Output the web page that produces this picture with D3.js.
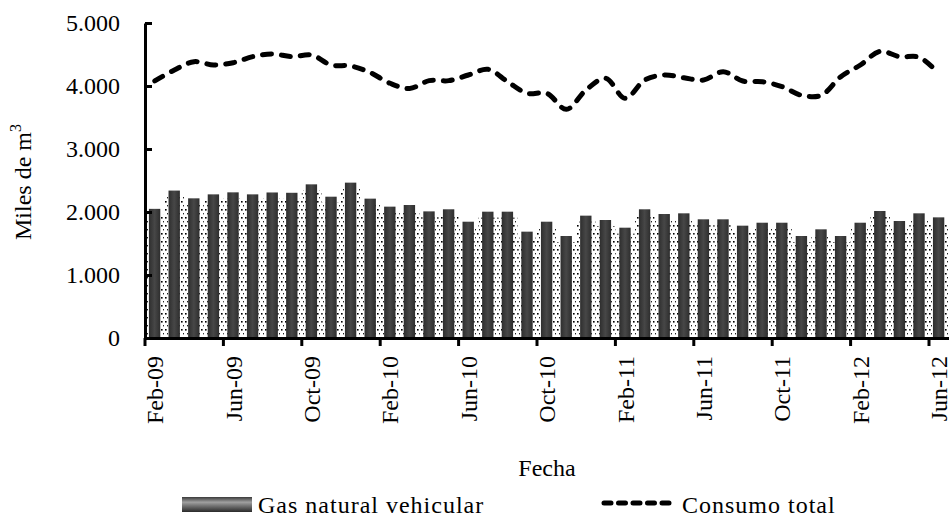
<!DOCTYPE html>
<html>
<head>
<meta charset="utf-8">
<script src="https://cdn.jsdelivr.net/npm/d3@7"></script>
<style>
  html, body { margin: 0; padding: 0; background: #fff; }
  svg { display: block; }
  text { font-family: "Liberation Serif", "Times New Roman", serif; fill: #000; }
</style>
</head>
<body>
<div id="chart"></div>
<script>
// ---- Data ----
const months = ["Feb-09","Mar-09","Apr-09","May-09","Jun-09","Jul-09","Aug-09","Sep-09","Oct-09","Nov-09","Dec-09","Jan-10",
                "Feb-10","Mar-10","Apr-10","May-10","Jun-10","Jul-10","Aug-10","Sep-10","Oct-10","Nov-10","Dec-10","Jan-11",
                "Feb-11","Mar-11","Apr-11","May-11","Jun-11","Jul-11","Aug-11","Sep-11","Oct-11","Nov-11","Dec-11","Jan-12",
                "Feb-12","Mar-12","Apr-12","May-12","Jun-12"];
const gasNaturalVehicular = [2050,2340,2217,2280,2312,2280,2310,2305,2439,2243,2466,2212,
                             2085,2111,2010,2043,1846,2005,2005,1688,1846,1619,1942,1873,
                             1751,2043,1968,1979,1884,1884,1783,1830,1830,1619,1725,1619,
                             1830,2016,1857,1979,1915];
const consumoTotal = [4080,4254,4386,4333,4370,4466,4508,4466,4492,4333,4317,4212,
                      4043,3960,4085,4085,4175,4265,4068,3884,3884,3630,3937,4122,
                      3804,4095,4175,4130,4095,4228,4079,4068,3990,3852,3852,4148,
                      4333,4550,4466,4455,4200];
const xTickLabels = ["Feb-09","Jun-09","Oct-09","Feb-10","Jun-10","Oct-10","Feb-11","Jun-11","Oct-11","Feb-12","Jun-12"];
const yTicks = [0,1000,2000,3000,4000,5000];
const seriesNames = ["Gas natural vehicular","Consumo total"];
const yTitle = "Miles de m";
const xTitle = "Fecha";

(function () {
// ---- Layout ----
const W = 949, H = 518;
const pLeft = 145, pTop = 23, pBottom = 338;
const bandW = 19.6;
const pRight = pLeft + months.length * bandW;

const svg = d3.select("#chart").append("svg").attr("width", W).attr("height", H);
const defs = svg.append("defs");

const dots = defs.append("pattern").attr("id","dots").attr("patternUnits","userSpaceOnUse")
  .attr("width",4).attr("height",8);
dots.append("rect").attr("width",4).attr("height",8).attr("fill","#fff");
dots.append("rect").attr("x",1).attr("y",1).attr("width",1.6).attr("height",1.6).attr("fill","#000");
dots.append("rect").attr("x",3).attr("y",5).attr("width",1.4).attr("height",1.4).attr("fill","#222");

const barGrad = defs.append("linearGradient").attr("id","barGrad").attr("x1","0").attr("x2","1").attr("y1","0").attr("y2","0");
barGrad.append("stop").attr("offset","0%").attr("stop-color","#2e2e2e");
barGrad.append("stop").attr("offset","50%").attr("stop-color","#474747");
barGrad.append("stop").attr("offset","100%").attr("stop-color","#2e2e2e");

const legGrad = defs.append("linearGradient").attr("id","legGrad").attr("x1","0").attr("x2","0").attr("y1","0").attr("y2","1");
legGrad.append("stop").attr("offset","0%").attr("stop-color","#3a3a3a");
legGrad.append("stop").attr("offset","35%").attr("stop-color","#a0a0a0");
legGrad.append("stop").attr("offset","55%").attr("stop-color","#7a7a7a");
legGrad.append("stop").attr("offset","100%").attr("stop-color","#2a2a2a");

const x = d3.scaleBand().domain(months).range([pLeft, pRight]).padding(0);
const y = d3.scaleLinear().domain([0, 5000]).range([pBottom, pTop]);
const bw = x.bandwidth();

// dotted background part of bars
svg.append("g").selectAll("rect").data(months).join("rect")
  .attr("x", d => x(d))
  .attr("width", bw)
  .attr("y", (d,i) => y(gasNaturalVehicular[i]) + 6)
  .attr("height", (d,i) => pBottom - y(gasNaturalVehicular[i]) - 6)
  .attr("fill", "url(#dots)");

// dark bars
svg.append("g").selectAll("rect").data(months).join("rect")
  .attr("x", d => x(d) + bw * 0.2)
  .attr("width", bw * 0.58)
  .attr("y", (d,i) => y(gasNaturalVehicular[i]))
  .attr("height", (d,i) => pBottom - y(gasNaturalVehicular[i]))
  .attr("fill", "url(#barGrad)");

// line
const line = d3.line()
  .x((d,i) => x(months[i]) + bw / 2)
  .y(d => y(d))
  .curve(d3.curveCatmullRom.alpha(0.5));
svg.append("path").datum(consumoTotal)
  .attr("d", line)
  .attr("fill","none").attr("stroke","#000").attr("stroke-width",5)
  .attr("stroke-linecap","round").attr("stroke-dasharray","9,10");

// y axis
const yAxis = svg.append("g").attr("transform", `translate(${pLeft},0)`)
  .call(d3.axisLeft(y).tickValues(yTicks).tickSizeInner(-7).tickSizeOuter(0).tickPadding(25)
    .tickFormat(d => d3.format(",")(d).replace(/,/g, ".")));
yAxis.select(".domain").attr("stroke","#000").attr("stroke-width",3);
yAxis.selectAll(".tick line").attr("stroke","#000").attr("stroke-width",3);
yAxis.selectAll(".tick text").attr("font-size",24).attr("font-family","Liberation Serif").attr("fill","#000");

// x axis
const xAxis = svg.append("g").attr("transform", `translate(0,${pBottom})`)
  .call(d3.axisBottom(x).tickValues(xTickLabels).tickSizeInner(8).tickSizeOuter(0));
xAxis.select(".domain").attr("stroke","#000").attr("stroke-width",3);
xAxis.selectAll(".tick line").attr("stroke","#000").attr("stroke-width",3)
  .attr("x1", -bw / 2).attr("x2", -bw / 2);
xAxis.selectAll(".tick text")
  .attr("font-size",24).attr("font-family","Liberation Serif").attr("fill","#000")
  .attr("transform","rotate(-90)")
  .attr("text-anchor","end")
  .attr("x",-18).attr("y",0).attr("dy","0.35em");

// titles
const yt = svg.append("text").attr("transform","translate(31,182) rotate(-90)")
  .attr("text-anchor","middle").attr("font-size",24);
yt.append("tspan").text(yTitle);
yt.append("tspan").attr("font-size",16).attr("dy",-10).text("3");

svg.append("text").attr("x",547).attr("y",476).attr("text-anchor","middle")
  .attr("font-size",24).text(xTitle);

// legend
svg.append("rect").attr("x",182).attr("y",497).attr("width",70).attr("height",15).attr("fill","url(#legGrad)");
svg.append("text").attr("x",258).attr("y",513).attr("font-size",24).attr("letter-spacing",1).text(seriesNames[0]);
svg.append("line").attr("x1",604).attr("x2",671).attr("y1",503).attr("y2",503)
  .attr("stroke","#000").attr("stroke-width",5).attr("stroke-linecap","round").attr("stroke-dasharray","7,7.5");
svg.append("text").attr("x",682).attr("y",513).attr("font-size",24).attr("letter-spacing",1).text(seriesNames[1]);
})();
</script>
</body>
</html>
